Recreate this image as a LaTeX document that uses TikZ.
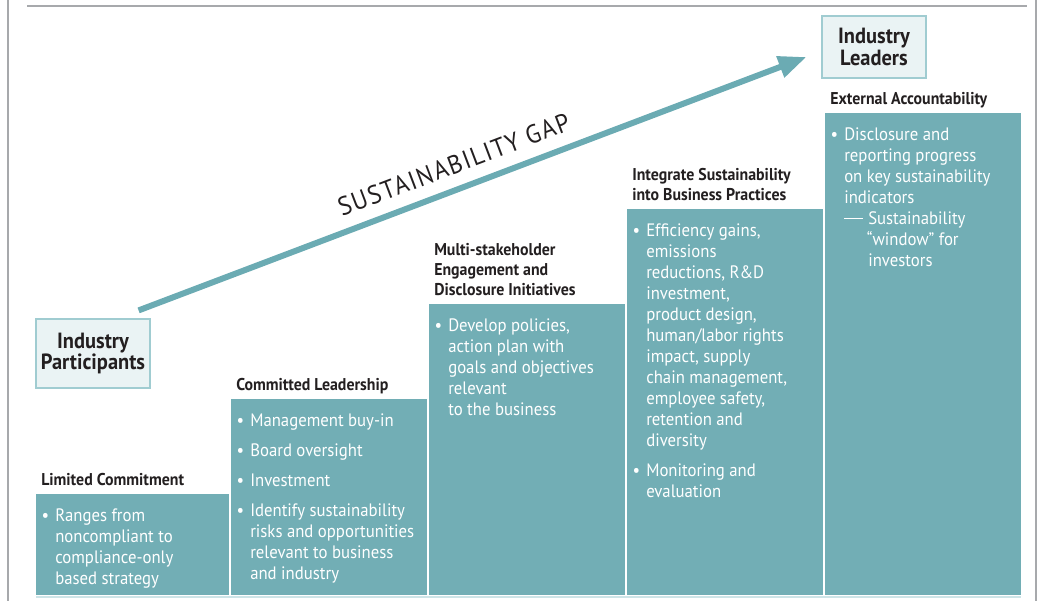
\documentclass[tikz,border=0pt]{standalone}
\usepackage{fontspec}
\setmainfont{PT Sans}[FakeStretch=0.93]
\usetikzlibrary{positioning,arrows.meta,calc}
\definecolor{StepTeal}{RGB}{114,174,181}
\definecolor{ArrowTeal}{RGB}{107,171,179}
\definecolor{LabelFill}{RGB}{234,243,244}
\definecolor{LabelLine}{RGB}{160,204,209}
\definecolor{HeadInk}{RGB}{35,31,32}
\definecolor{FrameGray}{RGB}{167,169,172}
\definecolor{BaseLine}{RGB}{205,228,231}
\newcommand{\itembul}{\llap{\textbullet\hspace{4.5pt}}}
\tikzset{
  stepbox/.style={fill=StepTeal,inner sep=0pt,outer sep=0pt,
                  minimum width=147pt},
  steptext/.style={text=white,align=left,inner sep=0pt,
                   font=\fontsize{13.5}{15.75}\selectfont},
  stephead/.style={text=HeadInk,align=left,inner sep=0pt,text depth=0pt,
                   font=\bfseries\fontsize{12.8}{15}\selectfont},
  lvlbox/.style={draw=LabelLine,fill=LabelFill,line width=0.9pt,
                 align=center,text=HeadInk,
                 font=\bfseries\fontsize{16.5}{14.25}\selectfont},
  gaparrow/.style={-{Triangle[length=21pt,width=16pt]},ArrowTeal,line width=4.5pt},
  gaplabel/.style={text=HeadInk,inner sep=0pt,
                   font=\fontsize{19.5}{19.5}\selectfont\addfontfeature{LetterSpace=6}},
}

\begin{document}
\begin{tikzpicture}[x=0.75pt,y=-0.75pt]
  \useasboundingbox (0,0) rectangle (1042,601);
  % page frame
  \draw[FrameGray,line width=1pt] (8,0) -- (8,601);
  \draw[FrameGray,line width=1pt] (1036,0) -- (1036,601);
  \draw[FrameGray,line width=1.2pt] (27,6) -- (1027,6);
  \draw[BaseLine,line width=1pt] (36,597) -- (1021,597);

  % the five steps
  \node[stepbox,minimum width=144.75pt,minimum height=75.75pt,anchor=south west] (c1) at (36,595) {};
  \node[stepbox,minimum height=147pt,right=1.5pt of c1.south east,anchor=south west] (c2) {};
  \node[stepbox,minimum height=218.25pt,right=1.5pt of c2.south east,anchor=south west] (c3) {};
  \node[stepbox,minimum height=289.5pt,right=1.5pt of c3.south east,anchor=south west] (c4) {};
  \node[stepbox,minimum height=361.5pt,right=1.5pt of c4.south east,anchor=south west] (c5) {};

  \node[stephead,above right=6pt and 3.75pt of c1.north west] (h1) {Limited Commitment};
  \node[stephead,above right=6pt and 3.75pt of c2.north west] (h2) {Committed Leadership};
  \node[stephead,above right=6pt and 3.75pt of c3.north west] (h3) {Multi-stakeholder\\Engagement and\\Disclosure Initiatives};
  \node[stephead,above right=6pt and 3.75pt of c4.north west] (h4) {Integrate Sustainability\\into Business Practices};
  \node[stephead,above right=6pt and 3.75pt of c5.north west] (h5) {External Accountability};

  \node[steptext,below right=10.5pt and 14.25pt of c1.north west] (t1) {\itembul Ranges from\\noncompliant to\\compliance-only\\based strategy};
  \node[steptext,below right=10.5pt and 14.25pt of c2.north west] (t2) {\itembul Management buy-in\\[6.75pt]
    \itembul Board oversight\\[6.75pt]
    \itembul Investment\\[6.75pt]
    \itembul Identify sustainability\\risks and opportunities\\relevant to business\\and industry};
  \node[steptext,below right=10.5pt and 14.25pt of c3.north west] (t3) {\itembul Develop policies,\\action plan with\\goals and objectives\\relevant\\to the business};
  \node[steptext,below right=10.5pt and 14.25pt of c4.north west] (t4) {\itembul Efficiency gains,\\emissions\\reductions, R\&D\\investment,\\product design,\\human/labor rights\\impact, supply\\chain management,\\employee safety,\\retention and\\diversity\\[6.75pt]
    \itembul Monitoring and\\evaluation};
  \node[steptext,below right=10.5pt and 14.25pt of c5.north west] (t5) {\itembul Disclosure and\\reporting progress\\on key sustainability\\indicators\\
    \makebox[18pt][l]{\rule[3.6pt]{14pt}{0.75pt}}Sustainability\\\hspace*{17pt}“window” for\\\hspace*{18pt}investors};

  % start and end levels
  \node[lvlbox,minimum width=85.5pt,minimum height=51.75pt] (participants) at (93,353.5) {Industry\\Participants};
  \node[lvlbox,minimum width=78pt,minimum height=46.5pt] (leaders) at (874,47) {Industry\\Leaders};

  \coordinate (gapstart) at ($(participants.north east)+(-12,-8)$);
  \coordinate (gapend) at ($(leaders.west)+(-15,10)$);
  \draw[gaparrow] (gapstart) -- node[gaplabel,sloped,pos=0.485,above=9pt] {SUSTAINABILITY GAP} (gapend);
\end{tikzpicture}
\end{document}
